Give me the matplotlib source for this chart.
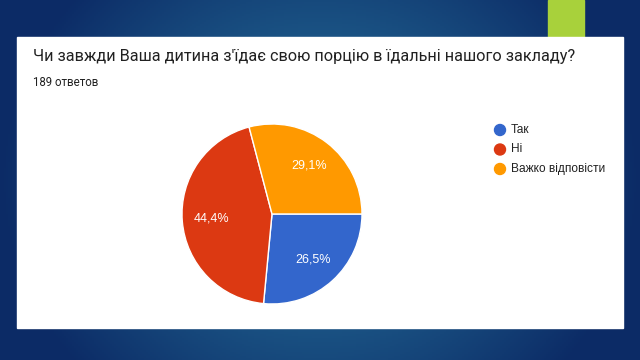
import numpy as np
import matplotlib.pyplot as plt
from matplotlib.patches import Rectangle, Circle

# Data
labels = ['Так', 'Ні', 'Важко відповісти']
shares = [26.5, 44.4, 29.1]
colors = ['#3366cc', '#dc3912', '#ff9900']
pct_labels = ['26,5%', '44,4%', '29,1%']
title = 'Чи завжди Ваша дитина з\'їдає свою порцію в їдальні нашого закладу?'
subtitle = '189 ответов'

W, H = 640, 360
fig = plt.figure(figsize=(6.4, 3.6), dpi=100)

# slide background: dark blue with lighter teal glow in the middle
bg = fig.add_axes([0, 0, 1, 1])
x = np.linspace(-1, 1, 320)
y = np.linspace(-1, 1, 180)
X, Y = np.meshgrid(x, y)
d = np.clip(np.sqrt((X / 1.0) ** 2 + (Y / 1.6) ** 2), 0, 1) ** 1.3
c_in = np.array([0x24, 0x6e, 0x98]) / 255
c_out = np.array([0x0c, 0x2b, 0x66]) / 255
img = c_in[None, None, :] * (1 - d[..., None]) + c_out[None, None, :] * d[..., None]
bg.imshow(img, extent=[0, W, 0, H], aspect='auto', origin='lower')
bg.set_xlim(0, W)
bg.set_ylim(H, 0)
bg.axis('off')

# green accent and white card
bg.add_patch(Rectangle((548, 0), 36, 37, color='#a8d13b', zorder=2))
bg.add_patch(Rectangle((17, 37), 606, 291, color='white', zorder=2))

bg.text(33, 57, title, fontsize=11.7, family='Roboto', color='#212121',
        va='center', ha='left', zorder=3)
bg.text(33, 83, subtitle, fontsize=8.3, family='Roboto', color='#212121',
        va='center', ha='left', zorder=3)

# legend
for i, (lab, col) in enumerate(zip(labels, colors)):
    ly = 130 + i * 19.5
    bg.add_patch(Circle((500, ly), 5.5, color=col, zorder=3))
    bg.text(511, ly, lab, fontsize=8.6, family='Liberation Sans', color='#222222',
            va='center', ha='left', zorder=3)

# pie
cx, cy, r = 272, 214, 90
ax = fig.add_axes([(cx - r) / W, (H - cy - r) / H, 2 * r / W, 2 * r / H])
wedges, texts = ax.pie(shares, colors=colors, startangle=0, counterclock=False,
                       wedgeprops=dict(edgecolor='white', linewidth=1))
for w, s in zip(wedges, pct_labels):
    ang = np.deg2rad((w.theta1 + w.theta2) / 2)
    ax.text(0.68 * np.cos(ang), 0.68 * np.sin(ang), s, color='white', fontsize=9,
            family='Liberation Sans', ha='center', va='center')
ax.set_xlim(-1, 1)
ax.set_ylim(-1, 1)
ax.set_aspect('equal')
ax.axis('off')

plt.savefig('out.png', dpi=100)
